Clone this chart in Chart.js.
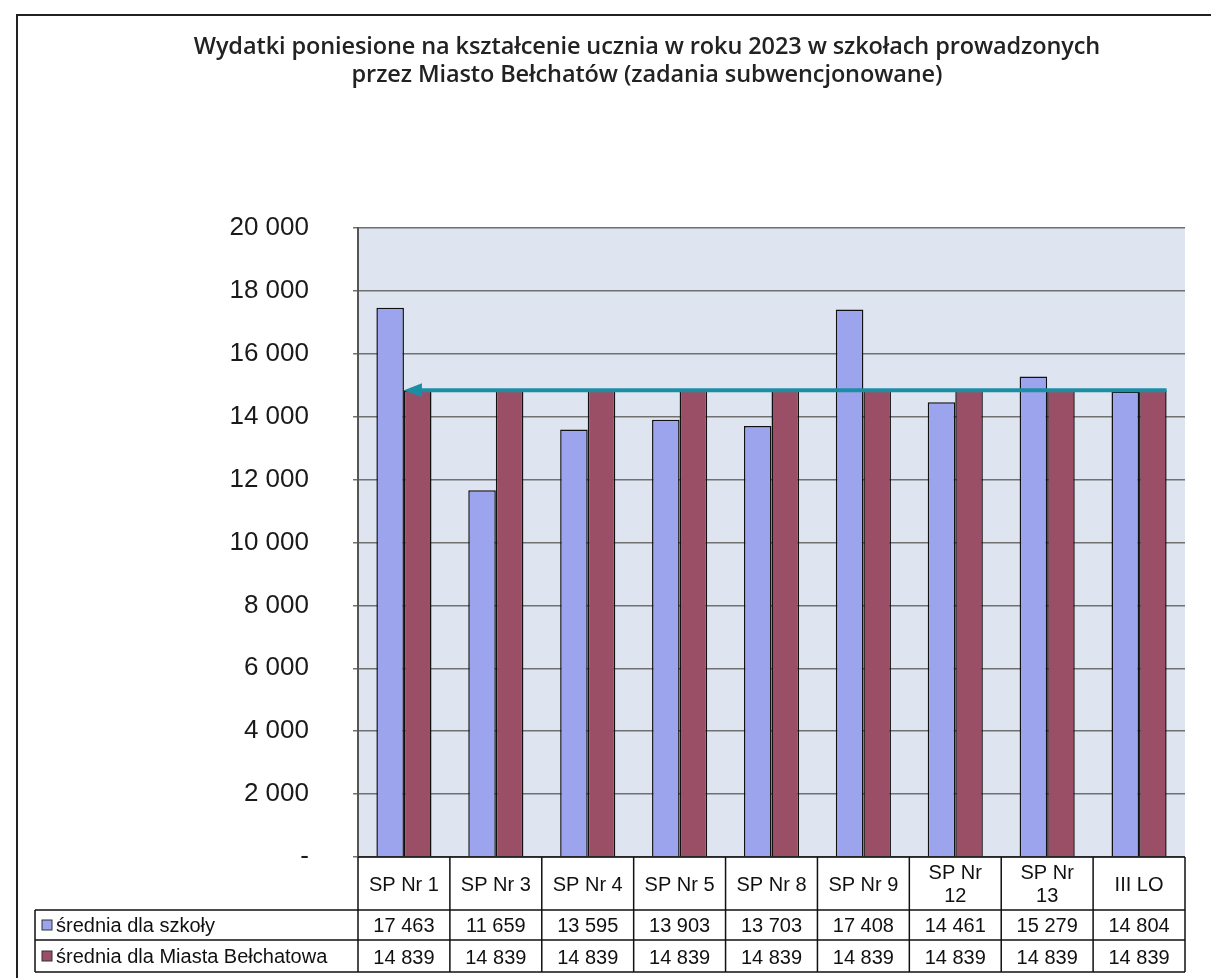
<!DOCTYPE html>
<html>
<head>
<meta charset="utf-8">
<script src="https://cdn.jsdelivr.net/npm/chart.js@4.4.1/dist/chart.umd.min.js"></script>
<style>
  html, body { margin: 0; padding: 0; background: #fff; }
  #wrap { position: relative; width: 1211px; height: 978px; overflow: hidden; }
  #frame { position: absolute; left: 16px; top: 14px; width: 1220px; height: 980px; border: 2px solid #222; box-sizing: border-box; pointer-events: none; }
  #tytul { position: absolute; left: 0; width: 1294px; top: 31px; text-align: center;
           font-family: "Open Sans", sans-serif; font-weight: 600; font-size: 23.5px; line-height: 28px; color: #222;
           letter-spacing: -0.1px; }
  canvas { position: absolute; left: 0; top: 0; }
</style>
</head>
<body>
<div id="wrap">
  <canvas id="wydatkiChart" width="1211" height="978"></canvas>
  <div id="frame"></div>
  <div id="tytul">Wydatki poniesione na kształcenie ucznia w roku 2023 w szkołach prowadzonych<br>przez Miasto Bełchatów (zadania subwencjonowane)</div>
</div>
<script>
// ===== Dane =====
const szkoly = [['SP Nr 1'], ['SP Nr 3'], ['SP Nr 4'], ['SP Nr 5'], ['SP Nr 8'], ['SP Nr 9'], ['SP Nr', '12'], ['SP Nr', '13'], ['III LO']];
const sredniaSzkoly = [17463, 11659, 13595, 13903, 13703, 17408, 14461, 15279, 14804];
const sredniaMiasta = [14839, 14839, 14839, 14839, 14839, 14839, 14839, 14839, 14839];
const nazwySerii = ['średnia dla szkoły', 'średnia dla Miasta Bełchatowa'];
const yTicki = [0, 2000, 4000, 6000, 8000, 10000, 12000, 14000, 16000, 18000, 20000];

const KOLOR_SZKOLA = '#9da4ee';
const KOLOR_MIASTO = '#9a4f67';
const FONT_TAB = '20px "Liberation Sans", Arial, sans-serif';

function formatLiczba(v) {
    if (v === 0) return '-';
    return String(v).replace(/\B(?=(\d{3})+(?!\d))/g, ' ');
}

// tło obszaru wykresu
const tloPlugin = {
    id: 'tlo',
    beforeDraw(chart) {
        const { ctx, chartArea: a } = chart;
        ctx.save();
        ctx.fillStyle = '#dfe4f1';
        ctx.fillRect(a.left, a.top, a.right - a.left, a.bottom - a.top);
        ctx.restore();
    }
};

// strzałka na poziomie średniej miasta
const strzalkaPlugin = {
    id: 'strzalka',
    afterDatasetsDraw(chart) {
        const { ctx } = chart;
        const y = chart.scales.y.getPixelForValue(sredniaMiasta[0]);
        const bary = chart.getDatasetMeta(1).data;
        const x0 = bary[0].x - bary[0].width / 2;
        const x1 = bary[bary.length - 1].x + bary[bary.length - 1].width / 2;
        ctx.save();
        ctx.strokeStyle = '#1c8ea4';
        ctx.fillStyle = '#1c8ea4';
        ctx.lineWidth = 4;
        ctx.beginPath();
        ctx.moveTo(x0 + 14, y);
        ctx.lineTo(x1, y);
        ctx.stroke();
        ctx.beginPath();
        ctx.moveTo(x0, y);
        ctx.lineTo(x0 + 18, y - 7);
        ctx.lineTo(x0 + 18, y + 7);
        ctx.closePath();
        ctx.fill();
        ctx.restore();
    }
};

// tabela danych pod osią X
const tabelaPlugin = {
    id: 'tabela',
    afterDraw(chart) {
        const { ctx, chartArea: a } = chart;
        const xs = chart.scales.x;
        const szer = (a.right - a.left) / szkoly.length;
        const top = a.bottom;
        const wiersze = [top, top + 53, top + 83, top + 115];
        const lewa = 35;
        ctx.save();
        ctx.strokeStyle = '#111';
        ctx.lineWidth = 1.5;
        // linie poziome
        ctx.beginPath();
        ctx.moveTo(a.left, wiersze[0]); ctx.lineTo(a.right, wiersze[0]);
        for (let r = 1; r < wiersze.length; r++) {
            ctx.moveTo(lewa, wiersze[r]); ctx.lineTo(a.right, wiersze[r]);
        }
        // linie pionowe
        for (let i = 0; i <= szkoly.length; i++) {
            const x = a.left + i * szer;
            ctx.moveTo(x, wiersze[0]); ctx.lineTo(x, wiersze[3]);
        }
        ctx.moveTo(lewa, wiersze[1]); ctx.lineTo(lewa, wiersze[3]);
        ctx.stroke();

        ctx.fillStyle = '#111';
        ctx.font = FONT_TAB;
        ctx.textAlign = 'center';
        ctx.textBaseline = 'middle';
        szkoly.forEach((lab, i) => {
            const cx = xs.getPixelForValue(i);
            const cy = (wiersze[0] + wiersze[1]) / 2;
            if (lab.length === 1) {
                ctx.fillText(lab[0], cx, cy + 2);
            } else {
                ctx.fillText(lab[0], cx, cy - 10);
                ctx.fillText(lab[1], cx, cy + 13);
            }
            ctx.fillText(formatLiczba(sredniaSzkoly[i]), cx, (wiersze[1] + wiersze[2]) / 2 + 1);
            ctx.fillText(formatLiczba(sredniaMiasta[i]), cx, (wiersze[2] + wiersze[3]) / 2 + 2);
        });

        // legenda w pierwszej kolumnie
        const kolory = [KOLOR_SZKOLA, KOLOR_MIASTO];
        nazwySerii.forEach((n, r) => {
            const cy = (wiersze[r + 1] + wiersze[r + 2]) / 2;
            ctx.fillStyle = kolory[r];
            ctx.fillRect(lewa + 7, cy - 5, 10, 10);
            ctx.strokeStyle = '#333';
            ctx.lineWidth = 1;
            ctx.strokeRect(lewa + 7, cy - 5, 10, 10);
            ctx.fillStyle = '#111';
            ctx.textAlign = 'left';
            ctx.fillText(n, lewa + 21, cy + 1);
        });
        ctx.restore();
    }
};

new Chart(document.getElementById('wydatkiChart'), {
    type: 'bar',
    data: {
        labels: szkoly,
        datasets: [
            {
                label: nazwySerii[0],
                data: sredniaSzkoly,
                backgroundColor: KOLOR_SZKOLA,
                borderColor: '#111',
                borderWidth: 1.5,
                categoryPercentage: 0.6,
                barPercentage: 1.0
            },
            {
                label: nazwySerii[1],
                data: sredniaMiasta,
                backgroundColor: KOLOR_MIASTO,
                borderColor: '#111',
                borderWidth: 1.5,
                categoryPercentage: 0.6,
                barPercentage: 1.0
            }
        ]
    },
    options: {
        responsive: false,
        animation: false,
        layout: { padding: { top: 228, right: 26, bottom: 121, left: 0 } },
        plugins: {
            legend: { display: false },
            title: { display: false },
            tooltip: { enabled: false }
        },
        scales: {
            x: {
                ticks: { display: false },
                grid: { display: false, drawTicks: false },
                border: { display: false }
            },
            y: {
                min: 0,
                max: 20000,
                afterBuildTicks(scale) { scale.ticks = yTicki.map(v => ({ value: v })); },
                afterFit(scale) { scale.width = 358; },
                ticks: {
                    callback: v => formatLiczba(v),
                    color: '#1a1a1a',
                    font: { family: '"Liberation Sans", Arial, sans-serif', size: 26 },
                    padding: 44
                },
                grid: { color: '#707070', lineWidth: 1.5, tickLength: 5 },
                border: { display: true, color: '#555', width: 2 }
            }
        }
    },
    plugins: [tloPlugin, strzalkaPlugin, tabelaPlugin]
});
</script>
</body>
</html>
